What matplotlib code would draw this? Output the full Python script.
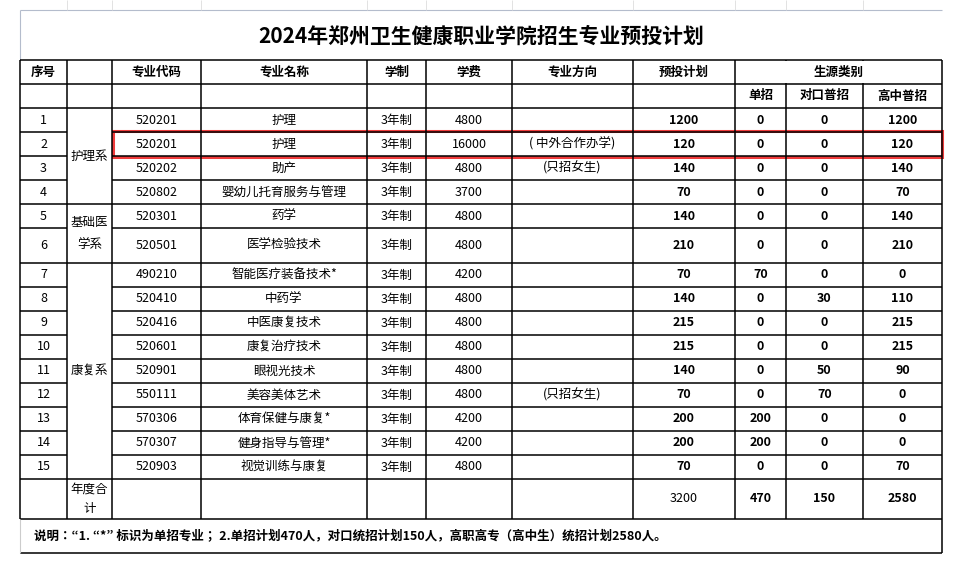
import matplotlib
matplotlib.use("Agg")
import matplotlib.pyplot as plt
from matplotlib import font_manager

cands = ["Noto Sans CJK JP", "Noto Sans CJK SC", "Noto Sans CJK TC", "Noto Sans CJK KR"]
avail = {f.name for f in font_manager.fontManager.ttflist}
fam = [c for c in cands if c in avail] + ["DejaVu Sans"]
plt.rcParams["font.family"] = fam

title = "2024年郑州卫生健康职业学院招生专业预投计划"
headers = ["序号", "", "专业代码", "专业名称", "学制", "学费", "专业方向", "预投计划", "生源类别"]
sub_headers = ["单招", "对口普招", "高中普招"]
seq = list(range(1, 16))
codes = ["520201", "520201", "520202", "520802", "520301", "520501", "490210", "520410",
         "520416", "520601", "520901", "550111", "570306", "570307", "520903"]
names = ["护理", "护理", "助产", "婴幼儿托育服务与管理", "药学", "医学检验技术", "智能医疗装备技术*",
         "中药学", "中医康复技术", "康复治疗技术", "眼视光技术", "美容美体艺术", "体育保健与康复*",
         "健身指导与管理*", "视觉训练与康复"]
years = ["3年制"] * 15
fees = [4800, 16000, 4800, 3700, 4800, 4800, 4200, 4800, 4800, 4800, 4800, 4800, 4200, 4200, 4800]
directions = ["", "( 中外合作办学)", "(只招女生)", "", "", "", "", "", "", "", "", "(只招女生)", "", "", ""]
plan = [1200, 120, 140, 70, 140, 210, 70, 140, 215, 215, 140, 70, 200, 200, 70]
danzhao = [0, 0, 0, 0, 0, 0, 70, 0, 0, 0, 0, 0, 200, 200, 0]
duikou = [0, 0, 0, 0, 0, 0, 0, 30, 0, 0, 50, 70, 0, 0, 0]
gaozhong = [1200, 120, 140, 70, 140, 210, 0, 110, 215, 215, 90, 0, 0, 0, 70]
depts = [("护理系", 0, 3), ("基础医\n学系", 4, 5), ("康复系", 6, 14)]
total_label = "年度合\n计"
totals = [3200, 470, 150, 2580]
note = "说明：“1. “*” 标识为单招专业； 2.单招计划470人，对口统招计划150人，高职高专（高中生）统招计划2580人。"

xs = [20, 67, 112, 201, 367, 426, 512, 633, 735, 786, 863, 942]
row_y = [108, 132, 156, 180, 204, 228, 263, 287, 311, 335, 359, 383, 407, 431, 455, 479]
h0, h1, h2 = 60, 84, 108
ytot, ynote_top, ynote_bot = 519, 519, 553

fig = plt.figure(figsize=(9.59, 5.65), dpi=100)
ax = fig.add_axes([0, 0, 1, 1])
ax.set_xlim(0, 959)
ax.set_ylim(565, 0)
ax.axis("off")

K = "black"
lw = 1.1
def hl(y, x0, x1, c=K, w=lw):
    ax.plot([x0, x1], [y, y], color=c, lw=w, solid_capstyle="butt")
def vl(x, y0, y1, c=K, w=lw):
    ax.plot([x, x], [y0, y1], color=c, lw=w, solid_capstyle="butt")

grey = "#b4bccc"
hl(10, 20, 942, grey, 0.8)
vl(20, 10, 60, grey, 0.8)
for gx in [67, 112, 201, 367, 426, 512, 633, 735, 786, 863]:
    vl(gx, 0, 10, "#dddddd", 0.6)

ax.text(481, 36, title, ha="center", va="center", fontsize=15, fontweight="bold")

hl(h0, 20, 942)
hl(h1, 20, 942)
hl(h2, 20, 942)
for x in xs:
    vl(x, h0, ytot)
vl(786, h0 + 1, h1 - 1, "white", 1.6)
vl(863, h0 + 1, h1 - 1, "white", 1.6)

fs = 9
for i, h in enumerate(headers):
    if i < 8:
        ax.text((xs[i] + xs[i + 1]) / 2, (h0 + h1) / 2, h, ha="center", va="center", fontsize=fs, fontweight="bold")
ax.text((735 + 942) / 2, (h0 + h1) / 2, headers[8], ha="center", va="center", fontsize=fs, fontweight="bold")
for j, s in enumerate(sub_headers):
    ax.text((xs[8 + j] + xs[9 + j]) / 2, (h1 + h2) / 2, s, ha="center", va="center", fontsize=fs, fontweight="bold")

for r in range(15):
    y0, y1 = row_y[r], row_y[r + 1]
    yc = (y0 + y1) / 2
    hl(y1, 20, 67)
    hl(y1, 112, 942)
    vals = [str(seq[r]), None, codes[r], names[r], years[r], str(fees[r]), directions[r],
            str(plan[r]), str(danzhao[r]), str(duikou[r]), str(gaozhong[r])]
    for c, v in enumerate(vals):
        if v is None:
            continue
        bold = c >= 7
        ax.text((xs[c] + xs[c + 1]) / 2, yc, v, ha="center", va="center", fontsize=fs,
                fontweight="bold" if bold else "normal")

for name, a, b in depts:
    hl(row_y[b + 1], 67, 112)
    ax.text(89.5, (row_y[a] + row_y[b + 1]) / 2, name, ha="center", va="center", fontsize=fs, linespacing=1.9)

hl(ytot, 20, 942)
ax.text(89.5, 499, total_label, ha="center", va="center", fontsize=fs, linespacing=1.6)
for k, v in enumerate(totals):
    c = 7 + k
    ax.text((xs[c] + xs[c + 1]) / 2, 499, str(v), ha="center", va="center", fontsize=fs,
            fontweight="normal" if k == 0 else "bold")

hl(ynote_bot, 20, 942)
vl(942, ynote_top, ynote_bot)
vl(20, ynote_top, ynote_bot, "#cccccc", 0.8)
ax.text(34, 536, note, ha="left", va="center", fontsize=fs, fontweight="bold")

ax.add_patch(plt.Rectangle((113, 131), 829, 26, fill=False, ec="#f03c3c", lw=2.2))

fig.savefig("out.png", dpi=100)
